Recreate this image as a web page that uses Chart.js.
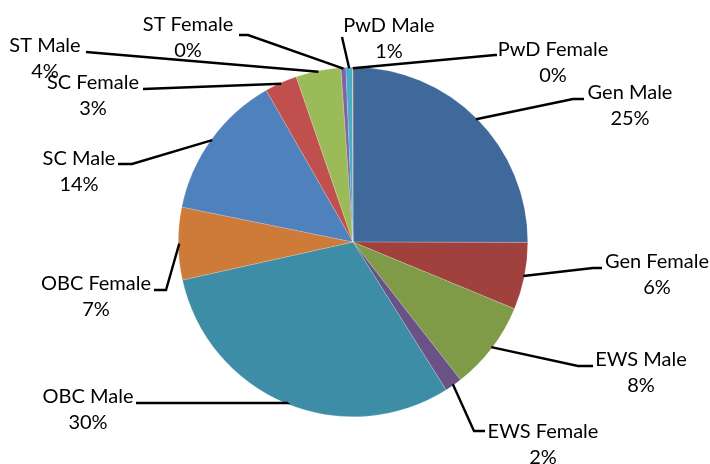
<!DOCTYPE html>
<html>
<head>
<meta charset="utf-8">
<script src="https://cdn.jsdelivr.net/npm/chart.js@4.4.1/dist/chart.umd.min.js"></script>
<style>
  html, body { margin: 0; padding: 0; background: #fff; }
</style>
</head>
<body>
<canvas id="chart" width="710" height="464"></canvas>
<script>
// categories and shares (percent of total)
const categories = ['Gen Male', 'Gen Female', 'EWS Male', 'EWS Female', 'OBC Male', 'OBC Female',
                    'SC Male', 'SC Female', 'ST Male', 'ST Female', 'PwD Male', 'PwD Female'];
const shares = [25, 6.2, 8.2, 1.6, 30.4, 6.7, 13.5, 3.0, 4.16, 0.45, 0.6, 0.05];
const sliceColors = ['#3f689b', '#a0413e', '#7f9b48', '#6a5286', '#3d8da6', '#ce7b39',
                     '#4f81bd', '#c0504d', '#9bbb59', '#8064a2', '#4bacc6', '#f79646'];

// where each data label sits: elbow of the leader, end of the leader, centre of the text block
const labelLayout = [
    { elbow: [573, 99],  end: [584, 99],  text: [630, 93] },   // Gen Male
    { elbow: [593, 268], end: [602, 268], text: [657, 262] },  // Gen Female
    { elbow: [578, 366], end: [593, 366], text: [641, 360] },  // EWS Male
    { elbow: [474, 431], end: [485, 431], text: [543, 432] },  // EWS Female
    { elbow: [287, 403], end: [136, 403], text: [88, 397] },   // OBC Male
    { elbow: [166, 290], end: [154, 290], text: [96, 284] },   // OBC Female
    { elbow: [132, 164], end: [118, 164], text: [79, 159] },   // SC Male
    { elbow: [143, 89],  end: [143, 89],  text: [93, 83] },    // SC Female
    { elbow: [86, 52],   end: [86, 52],   text: [45, 46] },    // ST Male
    { elbow: [248, 35],  end: [239, 35],  text: [188, 25] },   // ST Female
    { elbow: [342, 37],  end: [342, 37],  text: [389, 26] },   // PwD Male
    { elbow: [495, 55],  end: [497, 55],  text: [553, 50] }    // PwD Female
];

const FONT = '20px Lato, "Open Sans", sans-serif';

const leaderLabels = {
    id: 'leaderLabels',
    afterDatasetsDraw(chart) {
        const ctx = chart.ctx;
        const meta = chart.getDatasetMeta(0);
        const total = shares.reduce((a, b) => a + b, 0);
        ctx.save();
        ctx.strokeStyle = '#000';
        ctx.lineWidth = 2.4;
        meta.data.forEach((arc, i) => {
            const lay = labelLayout[i];
            const mid = (arc.startAngle + arc.endAngle) / 2;
            const sx = arc.x + Math.cos(mid) * (arc.outerRadius - 1);
            const sy = arc.y + Math.sin(mid) * (arc.outerRadius - 1);
            ctx.beginPath();
            ctx.moveTo(sx, sy);
            ctx.lineTo(lay.elbow[0], lay.elbow[1]);
            ctx.lineTo(lay.end[0], lay.end[1]);
            ctx.stroke();
        });
        ctx.fillStyle = '#000';
        ctx.font = FONT;
        ctx.textAlign = 'center';
        ctx.textBaseline = 'middle';
        meta.data.forEach((arc, i) => {
            const lay = labelLayout[i];
            const pct = Math.round(shares[i] / total * 100) + '%';
            ctx.fillText(categories[i], lay.text[0], lay.text[1]);
            ctx.fillText(pct, lay.text[0], lay.text[1] + 26);
        });
        ctx.restore();
    }
};

new Chart(document.getElementById('chart'), {
    type: 'pie',
    data: {
        labels: categories,
        datasets: [{
            data: shares,
            backgroundColor: sliceColors,
            borderColor: 'rgba(255,255,255,0.35)',
            borderWidth: 0.5,
            hoverOffset: 0
        }]
    },
    options: {
        responsive: false,
        animation: false,
        layout: { padding: { left: 178, right: 182, top: 66, bottom: 46 } },
        plugins: {
            legend: { display: false },
            tooltip: { enabled: false }
        }
    },
    plugins: [leaderLabels]
});
</script>
</body>
</html>
